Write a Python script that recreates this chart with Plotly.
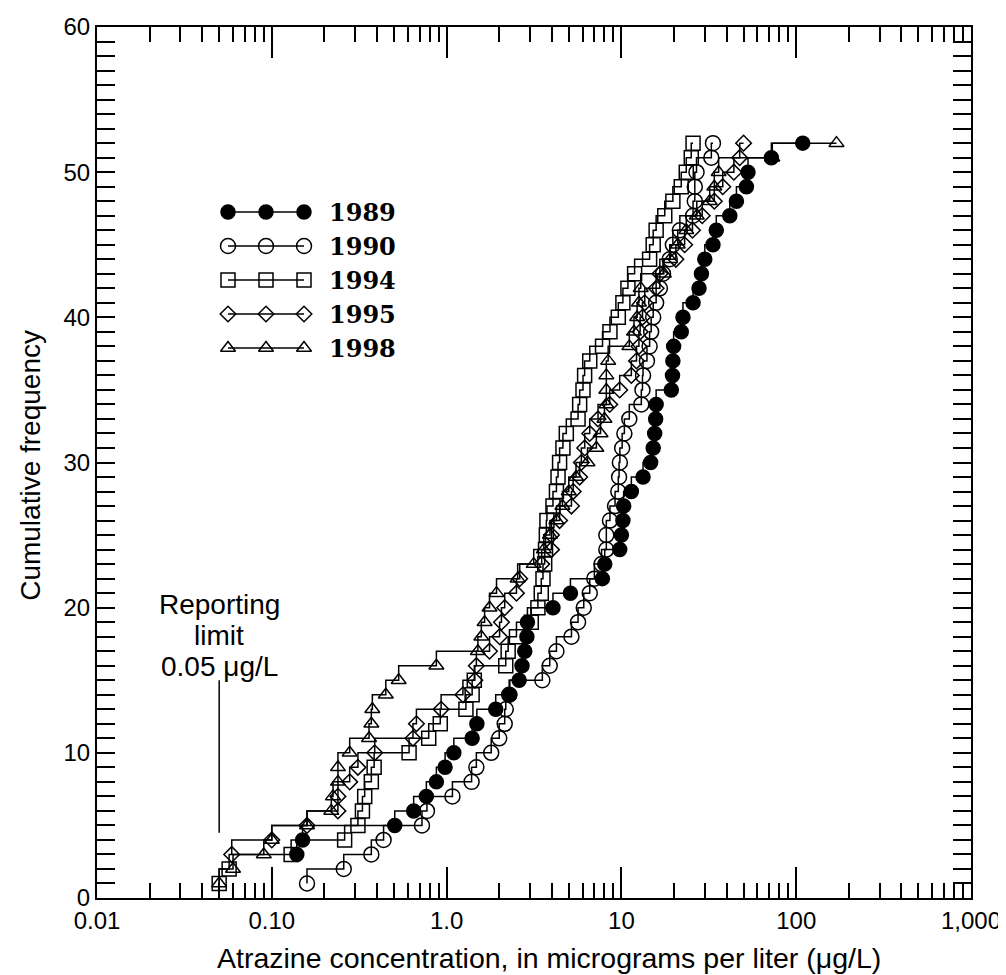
import numpy as np
import plotly.graph_objects as go

# ---------------- data ----------------
Y1989 = [3, 4, 5, 6, 7, 8, 9, 10, 11, 12, 13, 14, 15, 16, 17, 18, 19, 20, 21, 22, 23, 24, 25, 26, 27,
         28, 29, 30, 31, 32, 33, 34, 35, 36, 37, 38, 39, 40, 41, 42, 43, 44, 45, 46, 47, 48, 49, 50, 51, 52]
X1989 = [0.139, 0.150, 0.505, 0.648, 0.766, 0.874, 0.98, 1.10, 1.40, 1.49, 1.91, 2.30, 2.60, 2.70, 2.80,
         2.88, 2.90, 4.06, 5.11, 7.78, 8.03, 9.78, 10.0, 10.2, 10.3, 11.4, 13.3, 14.7, 15.2, 15.5, 15.7,
         15.8, 19.3, 19.6, 19.7, 19.9, 22.0, 22.5, 25.7, 27.8, 28.7, 30.0, 33.4, 34.9, 41.7, 45.5, 51.9,
         53.0, 72.1, 109.0]

Y1990 = [1, 2, 3, 4, 5, 6, 7, 8, 9, 10, 11, 12, 13, 14, 15, 16, 17, 18, 19, 20, 21, 22, 23, 24, 25, 26,
         27, 28, 29, 30, 31, 32, 33, 34, 35, 36, 37, 38, 39, 40, 41, 42, 43, 44, 45, 46, 47, 48, 49, 50, 51, 52]
X1990 = [0.159, 0.258, 0.371, 0.436, 0.723, 0.772, 1.08, 1.39, 1.48, 1.80, 2.00, 2.15, 2.18, 2.28, 3.53,
         3.89, 4.25, 5.18, 5.65, 6.09, 6.59, 7.0, 7.7, 8.2, 8.2, 8.6, 9.2, 9.6, 9.7, 9.8, 10.1, 10.4, 11.1,
         13.0, 13.2, 13.3, 14.0, 14.5, 14.8, 15.2, 15.8, 16.6, 17.3, 18.9, 19.7, 21.6, 25.7, 26.3, 26.3,
         26.9, 32.7, 33.4]

Y1994 = [1, 2, 3, 4, 5, 6, 7, 8, 9, 10, 11, 12, 13, 14, 15, 16, 17, 18, 19, 20, 21, 22, 23, 24, 25, 26,
         27, 28, 29, 30, 31, 32, 33, 34, 35, 36, 37, 38, 39, 40, 41, 42, 43, 44, 45, 46, 47, 48, 49, 50, 51, 52]
X1994 = [0.050, 0.057, 0.129, 0.261, 0.311, 0.330, 0.340, 0.371, 0.385, 0.61, 0.79, 0.92, 1.29, 1.40,
         1.44, 2.18, 2.25, 2.51, 3.05, 3.33, 3.48, 3.56, 3.64, 3.68, 3.72, 3.75, 4.06, 4.25, 4.34, 4.43,
         4.63, 4.84, 5.65, 5.77, 6.03, 6.16, 6.59, 7.8, 8.6, 9.6, 10.2, 10.9, 11.9, 14.5, 15.2, 15.8,
         17.7, 19.7, 22.0, 23.5, 25.1, 25.7]

Y1995 = [3, 4, 5, 6, 7, 8, 9, 10, 11, 12, 13, 14, 15, 16, 17, 18, 19, 20, 21, 22, 23, 24, 25, 26, 27,
         28, 29, 30, 31, 32, 33, 34, 35, 36, 37, 38, 39, 40, 41, 42, 43, 44, 45, 46, 47, 48, 49, 50, 51, 52]
X1995 = [0.059, 0.100, 0.159, 0.239, 0.239, 0.279, 0.311, 0.388, 0.642, 0.672, 0.93, 1.24, 1.45, 1.48,
         1.76, 2.01, 2.06, 2.15, 2.51, 2.62, 3.5, 3.98, 3.98, 4.43, 5.18, 5.3, 5.77, 5.9, 6.17, 6.59, 7.35,
         8.57, 9.78, 11.4, 12.2, 12.6, 12.8, 13.2, 13.6, 15.8, 16.6, 20.5, 23.0, 25.5, 29.0, 34.0, 38.0,
         44.0, 47.5, 50.0]

Y1998 = [1, 2, 3, 4, 5, 6, 7, 8, 9, 10, 11, 12, 13, 14, 15, 16, 17, 18, 19, 20, 21, 22, 23, 24, 25, 26,
         27, 28, 29, 30, 31, 32, 33, 34, 35, 36, 37, 38, 39, 40, 41, 42, 43, 44, 45, 46, 47, 48, 49, 50, 51, 52]
X1998 = [0.050, 0.060, 0.090, 0.100, 0.159, 0.219, 0.224, 0.239, 0.239, 0.279, 0.360, 0.371, 0.376,
         0.449, 0.532, 0.874, 1.51, 1.58, 1.65, 1.76, 1.93, 2.55, 3.15, 3.6, 3.9, 4.25, 4.6, 5.0, 5.5,
         6.4, 7.19, 7.6, 8.0, 8.2, 8.2, 8.2, 8.4, 11.1, 11.8, 12.3, 12.6, 12.9, 17.5, 19.0, 21.0, 23.5,
         27.0, 32.0, 34.0, 36.0, 73.0, 170.0]

YEARS = ["1989", "1990", "1994", "1995", "1998"]
REPORTING_LIMIT = 0.05
REPORTING_SPAN = [4.5, 15.0]

X_TICKVALS = [0.01, 0.1, 1, 10, 100, 1000]
X_TICKTEXT = ["0.01", "0.10", "1.0", "10", "100", "1,000"]
Y_TICKVALS = [0, 10, 20, 30, 40, 50, 60]

# ---------------- styling ----------------
SYMBOLS = {"1989": "circle", "1990": "circle-open", "1994": "square-open",
           "1995": "diamond-open", "1998": "triangle-up-open"}
SIZES = {"1989": 14, "1990": 15, "1994": 14, "1995": 12, "1998": 13}
DATA = {"1989": (X1989, Y1989), "1990": (X1990, Y1990), "1994": (X1994, Y1994),
        "1995": (X1995, Y1995), "1998": (X1998, Y1998)}

SANS = "Liberation Sans, Arial, sans-serif"
SERIF = "DejaVu Serif, serif"
LW = 1.5

fig = go.Figure()

for yr in YEARS:
    xs, ys = DATA[yr]
    fig.add_trace(go.Scatter(
        x=xs, y=ys, mode="lines+markers", line=dict(color="black", width=LW, shape="vh"),
        marker=dict(symbol=SYMBOLS[yr], size=SIZES[yr], color="black",
                    line=dict(color="black", width=LW)),
        showlegend=False, name=yr, cliponaxis=False))

# reporting limit pointer line
fig.add_trace(go.Scatter(x=[REPORTING_LIMIT, REPORTING_LIMIT], y=REPORTING_SPAN, mode="lines",
                         line=dict(color="black", width=LW), showlegend=False))

# ---------------- hand drawn legend on an overlay axis (pixel-like units) ----------------
LEG_ROWS = [212, 246, 280, 314, 348]
LEG_MARK_X = [228, 266, 304]
for yr, ry in zip(YEARS, LEG_ROWS):
    fig.add_trace(go.Scatter(
        x=LEG_MARK_X, y=[ry] * 3, xaxis="x2", yaxis="y2", mode="lines+markers",
        line=dict(color="black", width=LW),
        marker=dict(symbol=SYMBOLS[yr], size=SIZES[yr], color="black",
                    line=dict(color="black", width=LW)),
        showlegend=False))
    fig.add_annotation(x=327, y=ry, xref="x2", yref="y2", text="<b>%s</b>" % yr, showarrow=False,
                       xanchor="left", yanchor="middle", font=dict(family=SERIF, size=24, color="black"))

# minor ticks for the log axis
minor_x = [m * d for d in [0.01, 0.1, 1, 10, 100] for m in range(2, 10)]

axis_common = dict(showline=True, linecolor="black", linewidth=2, mirror="ticks", showgrid=False,
                   zeroline=False, ticks="inside", tickcolor="black", tickwidth=1.5, automargin=False)

# the page body adds an 8 px offset, so the figure is sized and its margins trimmed to compensate
fig.update_layout(
    width=998, height=967,
    margin=dict(l=89, r=35, t=19, b=77),
    paper_bgcolor="white", plot_bgcolor="white",
    xaxis=dict(type="log", range=[-2, 3], tickmode="array", tickvals=X_TICKVALS, ticktext=X_TICKTEXT,
               ticklen=31, tickfont=dict(family=SANS, size=24, color="black"),
               minor=dict(tickmode="array", tickvals=minor_x, ticks="inside", ticklen=15,
                          tickwidth=1.5, tickcolor="black"),
               **axis_common),
    yaxis=dict(range=[0, 60], tickmode="array", tickvals=Y_TICKVALS, ticklen=18,
               tickfont=dict(family=SANS, size=24, color="black"),
               minor=dict(dtick=1, ticks="inside", ticklen=18, tickwidth=1.5, tickcolor="black"),
               **axis_common),
    xaxis2=dict(overlaying="x", range=[97, 971], visible=False),
    yaxis2=dict(overlaying="y", range=[898, 27], visible=False),
)

# axis titles
fig.add_annotation(x=0.5177, y=-0.069, xref="paper", yref="paper", showarrow=False,
                   text="Atrazine concentration, in micrograms per liter (\u03bcg/L)",
                   xanchor="center", yanchor="middle", font=dict(family=SANS, size=28.5, color="black"))
fig.add_annotation(x=-0.077, y=0.497, xref="paper", yref="paper", showarrow=False,
                   text="Cumulative frequency", textangle=-90,
                   xanchor="center", yanchor="middle", font=dict(family=SANS, size=28, color="black"))

# reporting limit label
for txt, yy in [("Reporting", 20.2), ("limit", 18.1), ("0.05 \u03bcg/L", 15.95)]:
    fig.add_annotation(x=np.log10(REPORTING_LIMIT), y=yy, xref="x", yref="y", text=txt, showarrow=False,
                       xanchor="center", yanchor="middle", font=dict(family=SANS, size=28, color="black"))

fig.write_html("out.html")
